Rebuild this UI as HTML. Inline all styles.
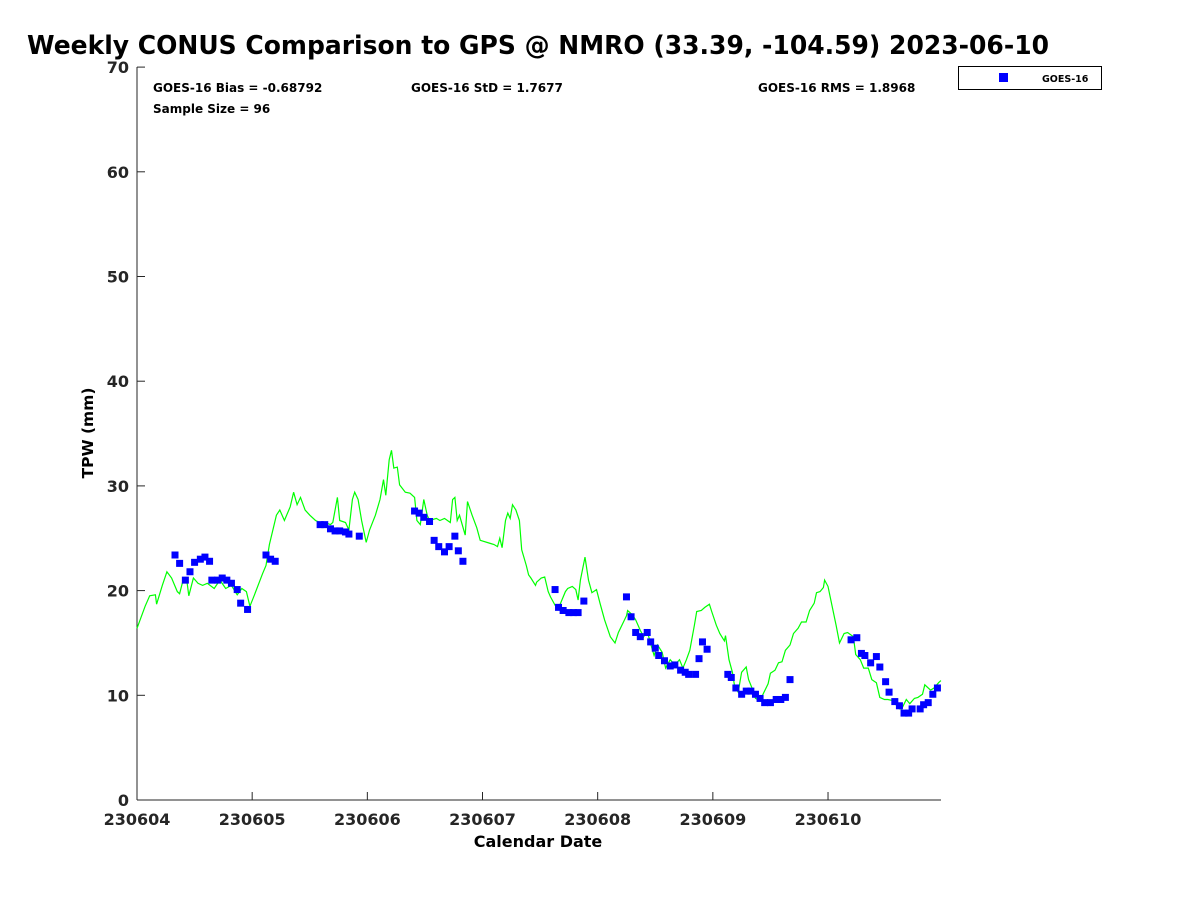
<!DOCTYPE html>
<html><head><meta charset="utf-8"><style>
body{margin:0;background:#fff;}
svg text{font-family:"DejaVu Sans","Liberation Sans",sans-serif;font-weight:bold;}
</style></head><body>
<svg id="chart" width="1200" height="900" xmlns="http://www.w3.org/2000/svg">
<rect width="1200" height="900" fill="#fff"/>
<text x="27" y="54" font-size="25.5" fill="#000" textLength="1022" lengthAdjust="spacingAndGlyphs">Weekly CONUS Comparison to GPS @ NMRO (33.39, -104.59) 2023-06-10</text>
<text x="153" y="92" font-size="12">GOES-16 Bias = -0.68792</text>
<text x="153" y="113" font-size="12">Sample Size = 96</text>
<text x="411" y="92" font-size="12">GOES-16 StD = 1.7677</text>
<text x="758" y="92" font-size="12">GOES-16 RMS = 1.8968</text>
<g>
<rect x="958.5" y="66.5" width="143" height="23" fill="#fff" stroke="#000" stroke-width="1"/>
<rect x="999" y="73" width="9" height="9" fill="#0000ff"/>
<text x="1042" y="82" font-size="9.5">GOES-16</text>
</g>
<text transform="translate(93,433) rotate(-90)" text-anchor="middle" font-size="15.5">TPW (mm)</text>
<text x="538" y="847" text-anchor="middle" font-size="16">Calendar Date</text>
<g id="axes"></g>
<g id="marks"></g>
</svg>
<script>
const xTickLabels=["230604","230605","230606","230607","230608","230609","230610"];
const yTickLabels=[0,10,20,30,40,50,60,70];
const gpsDays=[0,.07,.11,.16,.17,.22,.26,.30,.35,.37,.40,.43,.45,.49,.53,.57,.61,.67,.72,.77,.82,.87,.91,.95,.98,1.02,1.09,1.12,1.15,1.21,1.24,1.28,1.33,1.36,1.39,1.42,1.46,1.50,1.55,1.59,1.63,1.68,1.70,1.74,1.76,1.81,1.84,1.87,1.89,1.92,1.95,1.99,2.02,2.07,2.11,2.14,2.16,2.19,2.21,2.23,2.26,2.28,2.33,2.37,2.41,2.43,2.46,2.49,2.52,2.54,2.60,2.63,2.67,2.72,2.74,2.76,2.78,2.80,2.85,2.87,2.91,2.95,2.98,3.07,3.10,3.13,3.15,3.17,3.20,3.22,3.24,3.26,3.29,3.32,3.34,3.38,3.40,3.42,3.46,3.47,3.51,3.54,3.57,3.59,3.63,3.67,3.72,3.74,3.78,3.81,3.83,3.85,3.89,3.92,3.95,3.99,4.02,4.06,4.11,4.15,4.18,4.21,4.25,4.26,4.30,4.33,4.37,4.40,4.43,4.45,4.49,4.52,4.56,4.59,4.63,4.67,4.71,4.74,4.77,4.80,4.84,4.86,4.90,4.93,4.97,4.99,5.03,5.06,5.10,5.11,5.14,5.17,5.19,5.22,5.25,5.29,5.31,5.34,5.37,5.41,5.44,5.48,5.50,5.54,5.57,5.60,5.63,5.67,5.70,5.74,5.77,5.81,5.84,5.88,5.90,5.93,5.96,5.97,6.00,6.03,6.07,6.10,6.14,6.17,6.22,6.24,6.28,6.31,6.35,6.38,6.42,6.45,6.49,6.52,6.56,6.59,6.62,6.64,6.68,6.71,6.75,6.78,6.82,6.84,6.89,6.92,6.96,6.98];
const gpsTPW=[16.4,18.5,19.5,19.6,18.7,20.5,21.8,21.2,19.9,19.7,21.0,21.2,19.5,21.2,20.7,20.5,20.7,20.2,21.0,20.2,20.5,19.6,20.2,19.9,18.5,19.6,21.6,22.4,24.4,27.2,27.7,26.7,28.0,29.4,28.2,28.9,27.7,27.2,26.7,26.5,26.5,26.3,26.5,28.9,26.7,26.5,25.8,28.7,29.4,28.7,26.7,24.6,25.8,27.2,28.7,30.6,29.1,32.5,33.4,31.7,31.8,30.1,29.4,29.3,28.9,26.7,26.3,28.7,27.2,26.7,26.9,26.7,26.9,26.5,28.7,28.9,26.7,27.2,25.3,28.5,27.2,26.0,24.8,24.5,24.4,24.2,25.0,24.1,26.7,27.4,26.9,28.2,27.7,26.7,23.9,22.4,21.5,21.2,20.5,20.8,21.2,21.3,19.9,19.4,18.6,18.6,19.9,20.2,20.4,20.1,19.1,21.0,23.2,21.0,19.8,20.1,18.8,17.2,15.6,15.0,16.0,16.7,17.6,18.1,17.7,17.2,16.2,15.6,16.2,15.3,13.8,14.8,14.1,12.6,13.4,12.9,13.4,12.6,13.4,14.3,16.7,18.0,18.1,18.4,18.7,18.0,16.7,15.9,15.2,15.7,13.4,12.2,10.8,10.3,12.2,12.7,11.5,10.7,9.7,9.5,10.2,11.1,12.1,12.4,13.1,13.2,14.3,14.8,15.9,16.4,17.0,17.0,18.1,18.8,19.8,19.9,20.3,21.0,20.4,18.8,16.7,15.0,15.9,16.0,15.6,13.9,13.4,12.6,12.6,11.5,11.2,9.8,9.6,9.6,9.5,9.1,8.7,8.7,9.6,9.2,9.7,9.8,10.1,11.0,10.5,10.7,11.2,11.4];
const goesDays=[.33,.37,.42,.46,.50,.55,.59,.63,.65,.70,.74,.78,.82,.87,.90,.96,1.12,1.16,1.20,1.59,1.63,1.68,1.72,1.76,1.81,1.84,1.93,2.41,2.45,2.49,2.54,2.58,2.62,2.67,2.71,2.76,2.79,2.83,3.63,3.66,3.70,3.75,3.79,3.83,3.88,4.25,4.29,4.33,4.37,4.43,4.46,4.50,4.53,4.58,4.63,4.67,4.72,4.76,4.79,4.85,4.88,4.91,4.95,5.13,5.16,5.20,5.25,5.29,5.33,5.37,5.41,5.45,5.50,5.55,5.59,5.63,5.67,6.20,6.25,6.29,6.32,6.37,6.42,6.45,6.50,6.53,6.58,6.62,6.66,6.70,6.73,6.80,6.83,6.87,6.91,6.95];
const goesTPW=[23.4,22.6,21.0,21.8,22.7,23.0,23.2,22.8,21.0,21.0,21.2,21.0,20.7,20.1,18.8,18.2,23.4,23.0,22.8,26.3,26.3,25.9,25.7,25.7,25.6,25.4,25.2,27.6,27.4,27.0,26.6,24.8,24.2,23.7,24.2,25.2,23.8,22.8,20.1,18.4,18.1,17.9,17.9,17.9,19.0,19.4,17.5,16.0,15.6,16.0,15.1,14.5,13.8,13.3,12.8,12.9,12.4,12.2,12.0,12.0,13.5,15.1,14.4,12.0,11.7,10.7,10.1,10.4,10.4,10.1,9.7,9.3,9.3,9.6,9.6,9.8,11.5,15.3,15.5,14.0,13.8,13.1,13.7,12.7,11.3,10.3,9.4,9.0,8.3,8.3,8.7,8.7,9.1,9.3,10.1,10.7];
const X0=137,DAYW=115.17,Y0=800,MMH=10.47;
const xs=d=>X0+d*DAYW, ys=v=>Y0-v*MMH;
const NS="http://www.w3.org/2000/svg";
function mk(t,a,p){const e=document.createElementNS(NS,t);for(const k in a)e.setAttribute(k,a[k]);p.appendChild(e);return e;}
const axes=document.getElementById('axes'),marks=document.getElementById('marks');
let el=mk('line',{x1:X0,y1:67,x2:X0,y2:Y0,stroke:'#262626','stroke-width':1},axes);


el=mk('line',{x1:X0,y1:Y0,x2:941,y2:Y0,stroke:'#262626','stroke-width':1},axes);


yTickLabels.forEach(v=>{const y=ys(v);
 mk('line',{x1:X0,y1:y,x2:X0+8,y2:y,stroke:'#262626'},axes);
 const t=mk('text',{x:X0-8,y:y+6,'text-anchor':'end','font-size':16,fill:'#262626'},axes);t.textContent=v;
 
 });
xTickLabels.forEach((l,i)=>{const x=xs(i);
 mk('line',{x1:x,y1:Y0,x2:x,y2:Y0-8,stroke:'#262626'},axes);
 const t=mk('text',{x:x,y:825,'text-anchor':'middle','font-size':16,fill:'#262626'},axes);t.textContent=l;
 
 });
const n=Math.min(gpsDays.length,gpsTPW.length);
let d='';for(let i=0;i<n;i++)d+=(i?'L':'M')+xs(gpsDays[i]).toFixed(1)+','+ys(gpsTPW[i]).toFixed(1);
el=mk('path',{d:d,fill:'none',stroke:'#00ff00','stroke-width':1.2},marks);


const m=Math.min(goesDays.length,goesTPW.length);
for(let i=0;i<m;i++){const p=mk('rect',{x:xs(goesDays[i])-3.5,y:ys(goesTPW[i])-3.5,width:7,height:7,fill:'#0000ff'},marks);
 
 }
</script>
</body></html>
